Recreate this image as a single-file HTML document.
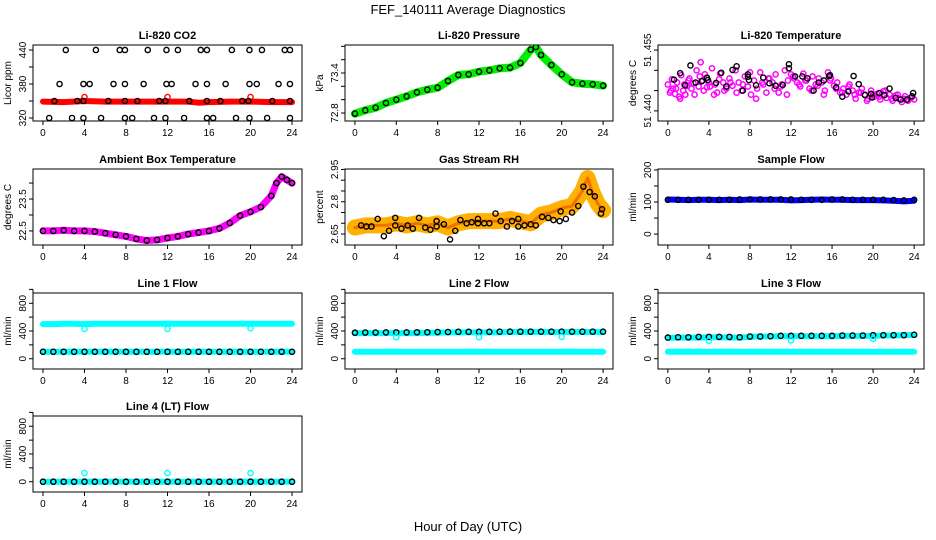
<!DOCTYPE html>
<html><head><meta charset="utf-8"><style>
body{margin:0;background:#fff}
svg{display:block;font-family:"Liberation Sans",sans-serif}
</style></head><body>
<svg id="c" width="936" height="540" viewBox="0 0 936 540">
<text x="468" y="14" text-anchor="middle" font-size="13">FEF_140111  Average Diagnostics</text>
<text x="468" y="531" text-anchor="middle" font-size="13">Hour of Day (UTC)</text>
</svg>
<script>
// ---- data ----
const hours = [0,1,2,3,4,5,6,7,8,9,10,11,12,13,14,15,16,17,18,19,20,21,22,23,24];
const xTicks = [0,4,8,12,16,20,24];

const co2RedT = [0,2,4,6,8,10,12,14,15,16,18,20,22,24];
const co2RedV = [349,348,350,349,349,349,349,349,347,348,349,349,348,348];
const co2SpikeT = [4,12,20];
const co2SpikeV = [357,357,357];
const co2BlackT = [2.2,5.1,7.4,7.9,10.1,11.9,13,15.2,15.8,18.2,19.9,21.1,23.3,23.8,
  1.6,3.9,4.5,6.8,7.9,9.7,11.9,12.4,14.7,15.8,17.6,19.9,20.6,22.7,23.8,
  1.1,3.3,3.9,6.3,7.9,9.1,11.2,11.8,14.1,15.8,17.1,19.2,19.8,22.1,23.8,
  0.6,2.8,3.9,5.6,7.9,8.6,10.7,11.8,13.6,15.8,16.4,18.6,19.9,21.6,23.8];
const co2BlackV = [440,440,440,440,440,440,440,440,440,440,440,440,440,440,
  380,380,380,380,380,380,380,380,380,380,380,380,380,380,380,
  350,350,350,350,350,350,350,350,350,350,350,350,350,350,350,
  320,320,320,320,320,320,320,320,320,320,320,320,320,320,320];

const presT = [0,1,2,3,4,5,6,7,8,9,10,11,12,13,14,15,16,17,17.5,18,19,20,21,22,23,24];
const presV = [72.79,72.84,72.88,72.95,73.0,73.05,73.11,73.15,73.18,73.28,73.37,73.38,73.42,73.44,73.47,73.48,73.55,73.75,73.79,73.67,73.52,73.38,73.26,73.24,73.23,73.21];

const tempMagT = [0,0.2,0.4,0.5,0.7,0.9,1.1,1.3,1.5,1.7,1.9,2.1,2.3,2.5,2.8,3,3.2,3.4,3.6,3.8,4,4.3,4.6,4.8,5.1,5.4,5.7,6,6.3,6.6,6.9,7.2,7.5,7.8,8.1,8.4,8.7,9,9.3,9.6,9.9,10.2,10.5,10.8,11.1,11.4,11.7,12,12.3,12.6,12.9,13.2,13.5,13.8,14.1,14.4,14.7,15,15.3,15.6,15.9,16.2,16.5,16.8,17.1,17.4,17.7,18,18.3,18.6,18.9,19.2,19.5,19.8,20.1,20.4,20.7,21,21.3,21.6,21.9,22.2,22.5,22.8,23.1,23.4,23.7,24,
  0.3,0.8,1.2,1.6,2.0,2.6,3.1,3.5,4.1,4.5,5.0,5.5,6.1,6.7,7.3,8.0,8.6,9.2,9.8,10.4,11.0,11.6,12.2,12.8,13.4,14.0,14.6,15.2,15.8,16.4,17.0,17.6,18.2,18.8,19.4,20.0,20.6,21.2,21.8,22.4,23.0,23.6];
const tempMagV = [51.4465,51.4445,51.4478,51.4455,51.4442,51.4470,51.4435,51.4488,51.4450,51.4440,51.4462,51.4480,51.4455,51.4468,51.4500,51.4460,51.4520,51.4475,51.4490,51.4458,51.4470,51.4505,51.4465,51.4445,51.4492,51.4470,51.4455,51.4480,51.4462,51.4500,51.4470,51.4450,51.4485,51.4460,51.4440,51.4475,51.4455,51.4495,51.4465,51.4445,51.4480,51.4470,51.4490,51.4445,51.4465,51.4500,51.4475,51.4490,51.4480,51.4470,51.4460,51.4492,51.4475,51.4455,51.4485,51.4465,51.4480,51.4470,51.4450,51.4495,51.4480,51.4462,51.4470,51.4445,51.4455,51.4440,51.4465,51.4450,51.4430,51.4445,51.4455,51.4440,51.4430,51.4450,51.4435,51.4442,51.4428,51.4448,51.4432,51.4440,51.4425,51.4438,51.4430,51.4422,51.4436,51.4425,51.4432,51.4428,
  51.4450,51.4455,51.4430,51.4465,51.4475,51.4440,51.4485,51.4450,51.4460,51.4440,51.4478,51.4450,51.4470,51.4445,51.4465,51.4495,51.4430,51.4470,51.4480,51.4455,51.4460,51.4440,51.4485,51.4465,51.4475,51.4450,51.4462,51.4440,51.4475,51.4455,51.4445,51.4460,51.4440,51.4445,51.4425,51.4440,51.4435,51.4450,51.4430,51.4440,51.4430,51.4432];
const tempBlackT = [0.6,1.2,1.7,2.2,2.7,3.3,3.8,3.9,4.7,5.2,5.7,6.3,6.7,7.3,7.8,7.8,7.9,8.6,9.3,9.9,10.5,11.2,11.8,11.8,12.4,13.1,13.6,14.2,14.7,15.2,15.7,15.8,16.4,17.0,17.6,18.1,18.6,19.2,19.8,19.9,20.6,21.1,21.6,22.2,22.7,23.3,23.8,23.9];
const tempBlackV = [51.4477,51.4493,51.4463,51.4512,51.4470,51.4473,51.4482,51.4476,51.4469,51.4494,51.4460,51.4501,51.4510,51.4450,51.4490,51.4484,51.4476,51.4463,51.4482,51.4468,51.4462,51.4464,51.4505,51.4515,51.4485,51.4485,51.4480,51.4450,51.4470,51.4475,51.4486,51.4488,51.4458,51.4435,51.4448,51.4486,51.4466,51.4439,51.4442,51.4433,51.4444,51.4439,51.4455,51.4432,51.4428,51.4428,51.4436,51.4444];

const ambT = [0,1,2,3,4,5,6,7,8,9,10,11,12,13,14,15,16,17,18,19,20,21,22,22.5,23,23.5,24];
const ambV = [22.5,22.5,22.52,22.5,22.5,22.48,22.43,22.38,22.33,22.25,22.2,22.22,22.28,22.33,22.4,22.45,22.5,22.58,22.75,22.98,23.1,23.25,23.6,24.0,24.2,24.1,24.0];

const rhT = [0,1,2,3,4,5,6,7,8,9,10,11,12,13,14,15,16,17,18,19,20,21,22,22.5,23,23.5,24];
const rhV = [2.68,2.69,2.69,2.69,2.70,2.69,2.70,2.69,2.70,2.68,2.70,2.71,2.71,2.71,2.71,2.72,2.71,2.70,2.74,2.75,2.77,2.78,2.85,2.91,2.84,2.79,2.76];
const rhBlackT = [0.6,1.1,1.6,2.2,2.8,3.3,3.9,3.9,4.5,5.1,5.6,6.2,6.8,7.3,7.9,7.9,8.6,9.2,9.7,10.2,10.8,11.3,11.9,11.9,12.5,13.0,13.6,14.1,14.7,15.2,15.8,15.8,16.4,17.0,17.5,18.1,18.7,19.2,19.8,19.9,20.4,21.0,21.6,22.1,22.7,23.2,23.8,23.9];
const rhBlackV = [2.69,2.685,2.685,2.72,2.64,2.665,2.69,2.725,2.675,2.69,2.675,2.725,2.68,2.67,2.71,2.685,2.695,2.625,2.665,2.715,2.70,2.705,2.70,2.72,2.70,2.70,2.745,2.71,2.685,2.71,2.685,2.72,2.69,2.695,2.69,2.73,2.725,2.715,2.71,2.755,2.72,2.75,2.78,2.87,2.845,2.825,2.745,2.765];

const sampleBlueV = [108,107,106,107,107,106,107,106,108,107,107,107,105,106,107,108,107,107,106,106,106,105,104,102,104];
const sampleBlackV = [107,107,107,107,107,107,107,108,108,108,108,108,108,107,107,107,108,108,107,107,107,107,106,105,107];

const l1CyanHiV = [500,500,505,505,500,505,505,505,505,505,505,505,505,505,505,505,505,505,505,505,505,505,505,505,505];
const l1CyanLoV = [100,100,100,100,100,100,100,100,100,100,100,100,100,100,100,100,100,100,100,100,100,100,100,100,100];
const l1BlackV  = [100,100,100,100,100,100,100,100,100,100,100,100,100,100,100,100,100,100,100,100,100,100,100,100,100];
const l1OutT = [4,12,20];
const l1OutV = [430,430,440];

const l2CyanHiV = [370,370,370,370,370,370,370,375,375,380,380,380,380,380,380,385,385,385,385,385,385,385,385,385,385];
const l2CyanLoV = [100,100,100,100,100,100,100,100,100,100,100,100,100,100,100,100,100,100,100,100,100,100,100,100,100];
const l2BlackV  = [375,378,378,380,380,380,382,382,385,385,388,388,388,388,390,390,390,390,390,390,390,390,390,390,390];
const l2OutT = [4,12,20];
const l2OutV = [310,310,315];

const l3CyanHiV = [300,305,305,305,310,310,305,305,315,320,320,325,325,325,325,325,325,330,330,330,330,335,335,340,345];
const l3CyanLoV = [100,100,100,100,100,100,100,100,100,100,100,100,100,100,100,100,100,100,100,100,100,100,100,100,100];
const l3BlackV  = [305,310,310,315,315,315,315,310,320,320,325,330,330,330,330,330,330,335,335,335,340,340,340,340,345];
const l3OutT = [4,12,20];
const l3OutV = [260,265,285];

const l4CyanV  = [0,0,0,0,0,0,0,0,0,0,0,0,0,0,0,0,0,0,0,0,0,0,0,0,0];
const l4BlackV = [0,0,0,0,0,0,0,0,0,0,0,0,0,0,0,0,0,0,0,0,0,0,0,0,0];
const l4OutT = [4,12,20];
const l4OutV = [125,125,125];

const svg = document.getElementById('c');
const NS = 'http://www.w3.org/2000/svg';
function mk(tag, attrs, parent){ const e=document.createElementNS(NS,tag); for(const k in attrs) e.setAttribute(k,attrs[k]); (parent||svg).appendChild(e); return e; }

const colL = [33, 345, 658], colW = [269, 268, 266];
const rowT = [45, 169, 293, 416], rowH = 76;

function panel(col,row,name,title,ylab,ymin,ymax,ticks,labels,fmt){
  const L=colL[col], W=colW[col], T=rowT[row], H=rowH;
  const g = mk('g',{});
  
  
  const xs = h => L + (h + 0.96) / 25.92 * W;
  const ys = v => T + H - (v - ymin) / (ymax - ymin) * H;
  const box = mk('rect',{x:L,y:T,width:W,height:H,fill:'none',stroke:'#000','stroke-width':1},g);
  
  
  const tt = mk('text',{x:L+W/2,y:T-6,'text-anchor':'middle','font-size':11,'font-weight':'bold'},g);
  tt.textContent = title;
  
  
  // x axis
  const xa = mk('g',{},g);
  
  
  mk('line',{x1:xs(0),x2:xs(24),y1:T+H,y2:T+H,stroke:'#000'},xa);
  xTicks.forEach(t=>{
    mk('line',{x1:xs(t),x2:xs(t),y1:T+H,y2:T+H+4,stroke:'#000'},xa);
    const lb = mk('text',{x:xs(t),y:T+H+15,'text-anchor':'middle','font-size':10},xa);
    lb.textContent = t;
    
    
  });
  // y axis
  const ya = mk('g',{},g);
  
  
  mk('line',{x1:L,x2:L,y1:ys(ticks[0]),y2:ys(ticks[ticks.length-1]),stroke:'#000'},ya);
  ticks.forEach(t=>{
    mk('line',{x1:L-4,x2:L,y1:ys(t),y2:ys(t),stroke:'#000'},ya);
  });
  labels.forEach(t=>{
    const lb = mk('text',{x:L-7,y:ys(t),'text-anchor':'middle','font-size':10,transform:`rotate(-90 ${L-7} ${ys(t)})`},ya);
    lb.textContent = fmt ? fmt(t) : t;
    
    
  });
  const yl = mk('text',{x:L-22,y:T+H/2,'text-anchor':'middle','font-size':10,transform:`rotate(-90 ${L-22} ${T+H/2})`},g);
  yl.textContent = ylab;
  
  
  const clip = 'clip'+col+row;
  const cp = mk('clipPath',{id:clip},g); mk('rect',{x:L,y:T,width:W,height:H},cp);
  const plot = mk('g',{'clip-path':`url(#${clip})`},g);
  return {xs,ys,plot};
}
function band(p,T,V,color,w,name){
  const d = T.map((t,i)=>(i?'L':'M')+p.xs(t).toFixed(1)+' '+p.ys(V[i]).toFixed(1)).join(' ');
  const e = mk('path',{d,fill:'none',stroke:color,'stroke-width':w,'stroke-linecap':'round','stroke-linejoin':'round'},p.plot);
  
  
}
function pts(p,T,V,color,name,r,sw){
  const g = mk('g',{},p.plot);
  
  
  T.forEach((t,i)=>{
    const c = mk('circle',{cx:p.xs(t),cy:p.ys(V[i]),r:r||2.6,fill:'none',stroke:color,'stroke-width':sw||1.4},g);
    
    
  });
}

// Row 1
let p = panel(0,0,'co2','Li-820 CO2','Licor ppm',314.7,448.8,[320,350,380,410,440],[320,380,440]);
band(p,co2RedT,co2RedV,'#ff0000',6,'co2-red-band');
pts(p,co2SpikeT,co2SpikeV,'#ff0000','co2-red-spikes');
pts(p,co2BlackT,co2BlackV,'#000','co2-black-points');

p = panel(1,0,'pressure','Li-820 Pressure','kPa',72.68,73.82,[72.8,73.0,73.2,73.4,73.6,73.8],[72.8,73.4]);
band(p,presT,presV,'#00ee00',8,'pressure-green-band');
pts(p,presT,presV,'#000','pressure-black-points');

p = panel(2,0,'li820-temp','Li-820 Temperature','degrees C',51.4375,51.45625,[51.440,51.445,51.450,51.455],[51.440,51.455],v=>v.toFixed(3).replace('.',' .'));
pts(p,tempMagT,tempMagV,'#ff00ff','temp-magenta-points',2.6,1.5);
pts(p,tempBlackT,tempBlackV,'#000','temp-black-points');

// Row 2
p = panel(0,1,'ambient','Ambient Box Temperature','degrees C',22.06,24.44,[22.5,23.0,23.5,24.0],[22.5,23.5]);
band(p,ambT,ambV,'#ff00ff',7,'ambient-magenta-band');
pts(p,ambT,ambV,'#000','ambient-black-points');

p = panel(1,1,'rh','Gas Stream RH','percent',2.599,2.952,[2.65,2.70,2.75,2.80,2.85,2.90,2.95],[2.65,2.80,2.95]);
band(p,rhT,rhV,'#ffb000',16,'rh-orange-band');
band(p,rhT,rhV,'#f07000',3,'rh-orange-core');
pts(p,rhBlackT,rhBlackV,'#000','rh-black-points');

p = panel(2,1,'sample-flow','Sample Flow','ml/min',-34,203,[0,50,100,150,200],[0,100,200]);
band(p,hours,sampleBlueV,'#0000ff',6,'sample-blue-band');
pts(p,hours,sampleBlackV,'#000','sample-black-points');

// Row 3
const fTicks=[0,200,400,600,800,1000], fLab=[0,400,800];
p = panel(0,2,'line1','Line 1 Flow','ml/min',-148,948,fTicks,fLab);
band(p,hours,l1CyanHiV,'#00ffff',6,'line1-cyan-high');
band(p,hours,l1CyanLoV,'#00ffff',6,'line1-cyan-low');
pts(p,hours,l1BlackV,'#000','line1-black-points');
pts(p,l1OutT,l1OutV,'#00ffff','line1-outliers');

p = panel(1,2,'line2','Line 2 Flow','ml/min',-148,948,fTicks,fLab);
band(p,hours,l2CyanHiV,'#00ffff',6,'line2-cyan-high');
band(p,hours,l2CyanLoV,'#00ffff',6,'line2-cyan-low');
pts(p,hours,l2BlackV,'#000','line2-black-points');
pts(p,l2OutT,l2OutV,'#00ffff','line2-outliers');

p = panel(2,2,'line3','Line 3 Flow','ml/min',-148,948,fTicks,fLab);
band(p,hours,l3CyanHiV,'#00ffff',6,'line3-cyan-high');
band(p,hours,l3CyanLoV,'#00ffff',6,'line3-cyan-low');
pts(p,hours,l3BlackV,'#000','line3-black-points');
pts(p,l3OutT,l3OutV,'#00ffff','line3-outliers');

// Row 4
p = panel(0,3,'line4','Line 4 (LT) Flow','ml/min',-148,948,fTicks,fLab);
band(p,hours,l4CyanV,'#00ffff',6,'line4-cyan-band');
pts(p,hours,l4BlackV,'#000','line4-black-points');
pts(p,l4OutT,l4OutV,'#00ffff','line4-outliers');
</script>
</body></html>
